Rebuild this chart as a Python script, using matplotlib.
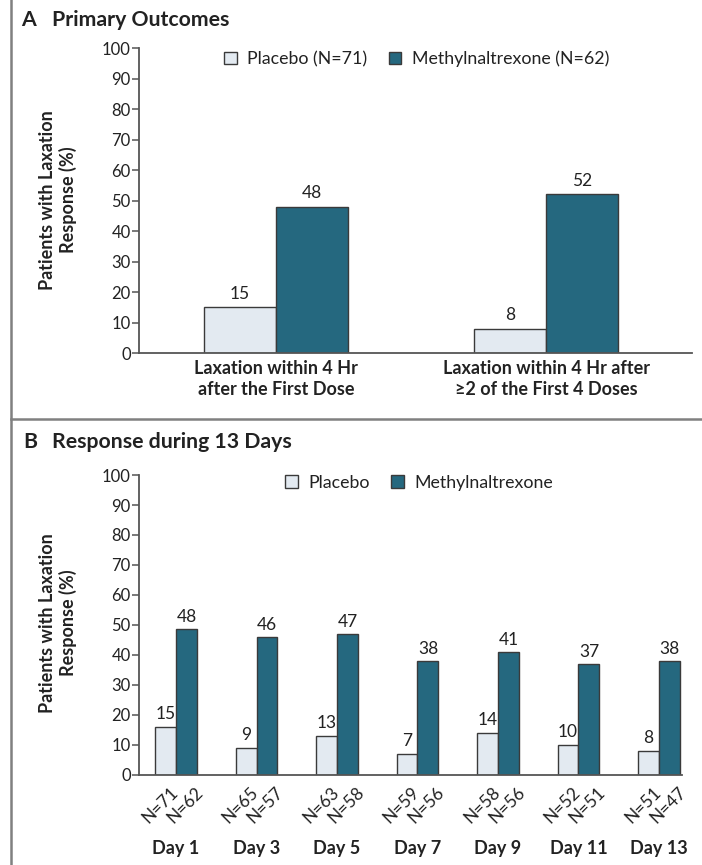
import matplotlib
matplotlib.use("Agg")
import matplotlib.pyplot as plt
from matplotlib.patches import Patch
from matplotlib.lines import Line2D

plt.rcParams['font.family'] = ['Lato', 'DejaVu Sans']

# ---------------- data ----------------
a_categories = ["Laxation within 4 Hr\nafter the First Dose",
                "Laxation within 4 Hr after\n\u22652 of the First 4 Doses"]
a_placebo = [15, 8]
a_meth = [48, 52]
a_legend = ["Placebo (N=71)", "Methylnaltrexone (N=62)"]

b_days = ["Day 1", "Day 3", "Day 5", "Day 7", "Day 9", "Day 11", "Day 13"]
b_placebo = [16, 9, 13, 7, 14, 10, 8]
b_meth = [48.5, 46, 47, 38, 41, 37, 38]
b_placebo_labels = ["15", "9", "13", "7", "14", "10", "8"]
b_meth_labels = ["48", "46", "47", "38", "41", "37", "38"]
b_placebo_n = [71, 65, 63, 59, 58, 52, 51]
b_meth_n = [62, 57, 58, 56, 56, 51, 47]
b_legend = ["Placebo", "Methylnaltrexone"]

yticks = list(range(0, 101, 10))

# ---------------- style ----------------
C_PLA = "#E3EAF1"
C_METH = "#25687F"
C_EDGE = "#3a3a3a"
C_AX = "#555555"
C_TXT = "#222222"

FS_TICK = 12
FS_VAL = 12.5
FS_BOLD = 13
FS_LEG = 12.8
FS_TITLE = 15.3
FS_N = 12.5

fig = plt.figure(figsize=(7.02, 8.65), dpi=100)

def style_axis(ax):
    ax.set_ylim(0, 100)
    ax.set_yticks(yticks)
    ax.set_yticklabels([str(t) for t in yticks], fontsize=FS_TICK, color=C_TXT)
    for s in ["top", "right"]:
        ax.spines[s].set_visible(False)
    for s in ["left", "bottom"]:
        ax.spines[s].set_color(C_AX)
        ax.spines[s].set_linewidth(1.3)
    ax.tick_params(axis='y', length=5, width=1.1, color=C_AX, pad=1)

# ---------------- Panel A ----------------
axA = fig.add_axes([0.198, 0.5919, 0.788, 0.3526])
w = 0.267
xa = list(range(len(a_categories)))
axA.bar([x - w / 2 for x in xa], a_placebo, w, color=C_PLA, edgecolor=C_EDGE, linewidth=1.0)
axA.bar([x + w / 2 for x in xa], a_meth, w, color=C_METH, edgecolor=C_EDGE, linewidth=1.0)
for x, v in zip(xa, a_placebo):
    axA.annotate(str(v), (x - w / 2, v), xytext=(0, 4), textcoords='offset points',
                 ha='center', va='bottom', fontsize=FS_VAL, color=C_TXT)
for x, v in zip(xa, a_meth):
    axA.annotate(str(v), (x + w / 2, v), xytext=(0, 4), textcoords='offset points',
                 ha='center', va='bottom', fontsize=FS_VAL, color=C_TXT)
axA.set_xlim(-0.507, 1.541)
axA.set_xticks(xa)
axA.set_xticklabels(a_categories, fontsize=FS_BOLD, fontweight='bold', color=C_TXT,
                    linespacing=1.3)
axA.tick_params(axis='x', length=0, pad=5)
style_axis(axA)
axA.legend([Patch(facecolor=C_PLA, edgecolor=C_EDGE), Patch(facecolor=C_METH, edgecolor=C_EDGE)],
           a_legend, ncol=2, frameon=False, loc='center left',
           bbox_to_anchor=(0.125, 0.965), fontsize=FS_LEG, handlelength=0.7, handleheight=0.7,
           handletextpad=0.6, columnspacing=1.2, labelcolor=C_TXT)

# ---------------- Panel B ----------------
axB = fig.add_axes([0.198, 0.1046, 0.7735, 0.3462])
wb = 0.26
xb = list(range(len(b_days)))
axB.bar([x - wb / 2 for x in xb], b_placebo, wb, color=C_PLA, edgecolor=C_EDGE, linewidth=1.0)
axB.bar([x + wb / 2 for x in xb], b_meth, wb, color=C_METH, edgecolor=C_EDGE, linewidth=1.0)
for x, v, lab in zip(xb, b_placebo, b_placebo_labels):
    axB.annotate(lab, (x - wb / 2, v), xytext=(0, 3), textcoords='offset points',
                 ha='center', va='bottom', fontsize=FS_VAL, color=C_TXT)
for x, v, lab in zip(xb, b_meth, b_meth_labels):
    axB.annotate(lab, (x + wb / 2, v), xytext=(0, 3), textcoords='offset points',
                 ha='center', va='bottom', fontsize=FS_VAL, color=C_TXT)
for x, n1, n2, d in zip(xb, b_placebo_n, b_meth_n, b_days):
    axB.annotate(f"N={n1}", (x - wb / 2, 0), xytext=(3, -7),
                 textcoords='offset points', ha='right', va='top', rotation=45,
                 rotation_mode='anchor', fontsize=FS_N, color=C_TXT)
    axB.annotate(f"N={n2}", (x + wb / 2, 0), xytext=(6, -7),
                 textcoords='offset points', ha='right', va='top', rotation=45,
                 rotation_mode='anchor', fontsize=FS_N, color=C_TXT)
    axB.annotate(d, (x, 0), xytext=(0, -53), textcoords='offset points',
                 ha='center', va='center', fontsize=FS_BOLD, fontweight='bold', color=C_TXT)
axB.set_xlim(-0.46, 6.286)
axB.set_xticks([])
style_axis(axB)
axB.legend([Patch(facecolor=C_PLA, edgecolor=C_EDGE), Patch(facecolor=C_METH, edgecolor=C_EDGE)],
           b_legend, ncol=2, frameon=False, loc='center left',
           bbox_to_anchor=(0.24, 0.975), fontsize=FS_LEG, handlelength=0.7, handleheight=0.7,
           handletextpad=0.6, columnspacing=1.2, labelcolor=C_TXT)

# ---------------- y labels ----------------
for yc in (200, 623):
    fig.text(58 / 702, 1 - yc / 865, "Patients with Laxation\nResponse (%)", rotation=90,
             ha='center', va='center', fontsize=FS_BOLD, fontweight='bold', color=C_TXT,
             linespacing=1.25, multialignment='center')

# ---------------- panel titles ----------------
fig.text(21 / 702, 1 - 20 / 865, "A", ha='left', va='center', fontsize=FS_TITLE, fontweight='bold', color=C_TXT)
fig.text(52 / 702, 1 - 20 / 865, "Primary Outcomes", ha='left', va='center', fontsize=FS_TITLE,
         fontweight='bold', color=C_TXT)
fig.text(23 / 702, 1 - 442 / 865, "B", ha='left', va='center', fontsize=FS_TITLE, fontweight='bold', color=C_TXT)
fig.text(52 / 702, 1 - 442 / 865, "Response during 13 Days", ha='left', va='center', fontsize=FS_TITLE,
         fontweight='bold', color=C_TXT)

# ---------------- frame lines ----------------
fig.add_artist(Line2D([11 / 702, 11 / 702], [0, 1], transform=fig.transFigure, color="#808080", linewidth=1.8))
fig.add_artist(Line2D([11 / 702, 1], [1 - 419 / 865, 1 - 419 / 865], transform=fig.transFigure,
                      color="#808080", linewidth=1.8))

fig.savefig("out.png", dpi=100)
